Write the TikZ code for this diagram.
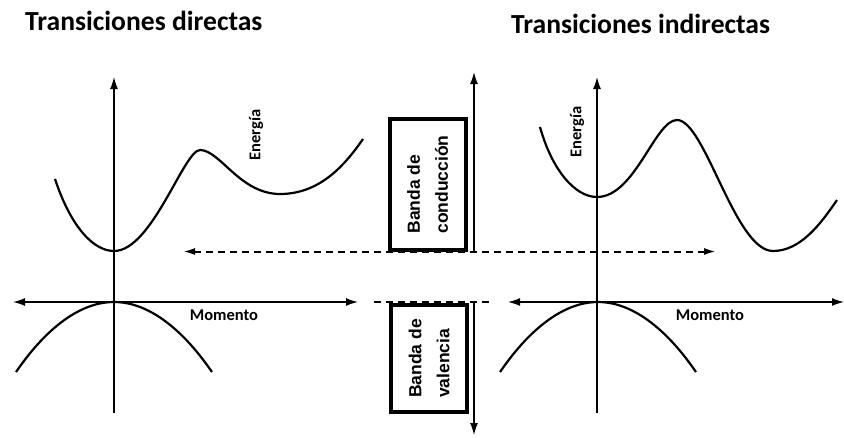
\documentclass[tikz,border=0pt]{standalone}
\usepackage{fontspec}
\setmainfont{Carlito}
\newfontfamily\arialfont{Liberation Sans}
\usepackage{tikz}
\usetikzlibrary{arrows.meta}

\begin{document}
\begin{tikzpicture}[x=1pt, y=-1pt, >={Latex[length=12pt,width=8pt]},
        eje/.style={line width=1.4pt},
        curva/.style={line width=2.2pt},
        guion/.style={line width=2pt, dash pattern=on 7pt off 5pt},
        banda/.style={rectangle, draw, line width=4pt, rotate=90, align=left, inner sep=0pt, minimum height=76pt, font=\arialfont\bfseries\fontsize{17.5}{28}\selectfont},
        etiqueta/.style={font=\bfseries\fontsize{16.5}{20}\selectfont, inner sep=0pt},
        titulo/.style={anchor=west, inner sep=0pt, font=\bfseries\fontsize{27.6}{30}\selectfont}]
        \useasboundingbox (0,0) rectangle (844,437);

        \node (tdir) [titulo] at (25,21) {Transiciones directas};
        \node (tind) [titulo] at (511,24) {Transiciones indirectas};

        % transiciones directas
        \coordinate (dArriba) at (114,77);
        \coordinate (dAbajo) at (114,413);
        \coordinate (dIzq) at (13,302);
        \coordinate (dDer) at (358,302);
        \draw[->, eje] (dAbajo) -- (dArriba);
        \draw[<->, eje] (dIzq) -- (dDer);
        \draw[curva] (55,179) .. controls (72,230) and (95,251) .. (114,251)
                .. controls (152,251) and (184,150) .. (200,150)
                .. controls (220,150) and (240,194) .. (280,194)
                .. controls (320,194) and (345,165) .. (363,139);
        \draw[curva] (16,372) parabola bend (114,302) (212,372);
        \node (eDir) [etiqueta, rotate=90] at (256,135) {Energía};
        \node (mDir) [etiqueta] at (224,315) {Momento};

        % transiciones indirectas
        \coordinate (iArriba) at (597,77);
        \coordinate (iAbajo) at (597,413);
        \coordinate (iIzq) at (508,302);
        \coordinate (iDer) at (844,302);
        \draw[->, eje] (iAbajo) -- (iArriba);
        \draw[<->, eje] (iIzq) -- (iDer);
        \draw[curva] (540,127) .. controls (552,170) and (575,197) .. (597,197)
                .. controls (635,197) and (655,120) .. (677,120)
                .. controls (705,120) and (735,251) .. (773,251)
                .. controls (800,251) and (820,225) .. (837,200);
        \draw[curva] (500,372) parabola bend (598,302) (696,372);
        \node (eInd) [etiqueta, rotate=90] at (577,132) {Energía};
        \node (mInd) [etiqueta] at (710,315) {Momento};

        % bandas
        \coordinate (fIzq) at (183,251.5);
        \coordinate (fDer) at (716,251.5);
        \coordinate (vIzq) at (374,302);
        \coordinate (vDer) at (490,302);
        \draw[<->, guion, >={Latex[length=12pt,width=7pt]}] (fIzq) -- (fDer);
        \draw[guion] (vIzq) -- (vDer);
        \node (bc) [banda, minimum width=131pt] at (427.5,184.5) {Banda de\\conducción};
        \node (bv) [banda, minimum width=107pt] at (429,358.5) {Banda de\\valencia};
        \coordinate (cArriba) at (474,72);
        \coordinate (cBase) at (474,251.5);
        \coordinate (vBase) at (474,302);
        \coordinate (vAbajo) at (474,435);
        \draw[->, eje] (cBase) -- (cArriba);
        \draw[->, eje] (vBase) -- (vAbajo);
\end{tikzpicture}
\end{document}
